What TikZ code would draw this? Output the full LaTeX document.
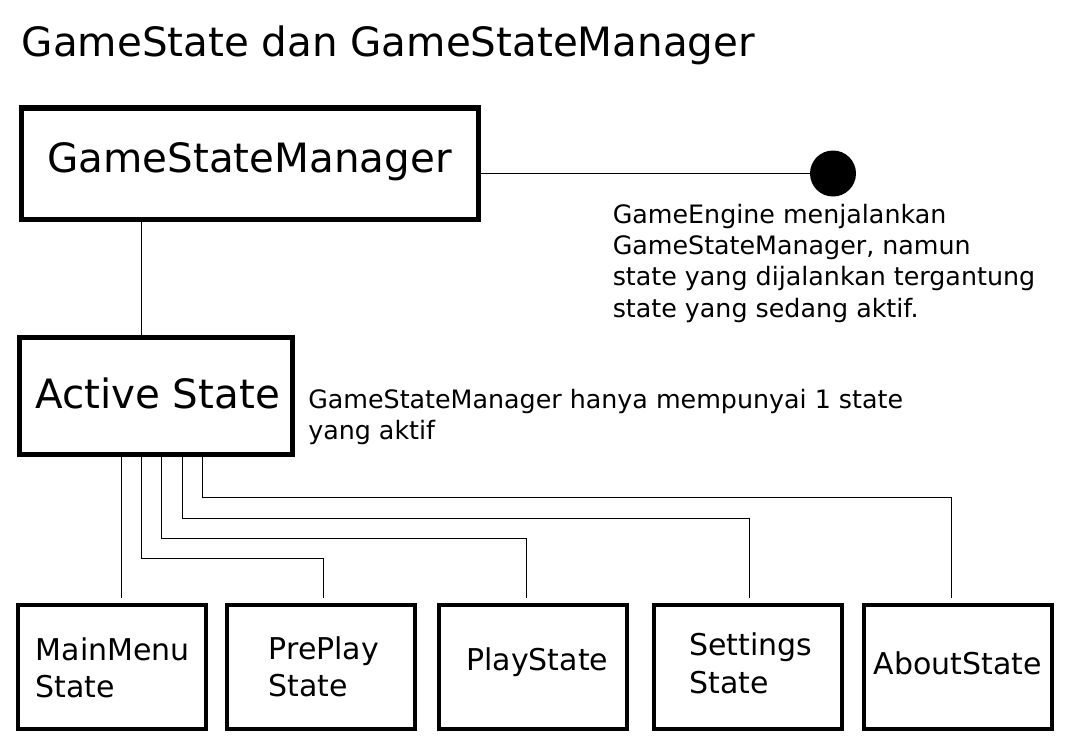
\documentclass[tikz,border=0pt]{standalone}
\usepackage{fontspec}
\setmainfont{DejaVu Sans}
\newcommand{\stk}[1]{\vtop{#1}}
\begin{document}
\begin{tikzpicture}[x=0.75pt,y=-0.75pt,
  box/.style={draw=black, fill=white, inner sep=0pt, outer sep=0pt, rectangle},
  bigbox/.style={box, line width=4.1pt, minimum width=342.4pt, minimum height=83.6pt},
  actbox/.style={box, line width=3.75pt, minimum width=204.4pt, minimum height=87.75pt},
  stbox/.style={box, line width=3pt, minimum width=141pt, minimum height=93pt},
  bigtxt/.style={inner sep=0pt, font=\fontsize{30.3pt}{36pt}\selectfont},
  notetxt/.style={inner sep=0pt, anchor=base west, font=\fontsize{19pt}{23.6pt}\selectfont},
  sttxt/.style={inner sep=0pt, anchor=base west, font=\fontsize{22.5pt}{27.75pt}\selectfont},
  conn/.style={draw=black, line width=0.75pt},
  ]
\useasboundingbox[fill=white] (0,0) rectangle (1065,753);

% title
\node[bigtxt, anchor=base west, font=\fontsize{30.3pt}{36pt}\selectfont] (title) at (21.5,56) {GameState dan GameStateManager};

% main boxes
\node[bigbox] (gsm) at (250,163.5) {};
\node[bigtxt, anchor=base] (gsmt) at (249.5,172) {GameStateManager};
\node[actbox] (act) at (156.25,396) {};
\node[bigtxt, anchor=base] (actt) at (157.5,408) {Active State};

% dot
\node[circle, fill=black, inner sep=0pt, minimum size=34.5pt] (dot) at (833,173.5) {};

% notes
\node[notetxt] (note1) at (612.5,223) {\stk{\hbox{GameEngine menjalankan}\hbox{GameStateManager, namun}\hbox{state yang dijalankan tergantung}\hbox{state yang sedang aktif.}}};
\node[notetxt] (note2) at (308,408) {\stk{\hbox{GameStateManager hanya mempunyai 1 state}\hbox{yang aktif}}};

% state boxes
\node[stbox] (mm) at (112,666.7) {};
\node[stbox] (pp) at (321,666.7) {};
\node[stbox] (ps) at (533.3,666.7) {};
\node[stbox] (ss) at (747.5,666.7) {};
\node[stbox] (as) at (958,666.7) {};
\node[sttxt] (mmt) at (35.5,660) {\stk{\hbox{MainMenu}\hbox{State}}};
\node[sttxt] (ppt) at (268.5,659.5) {\stk{\hbox{PrePlay}\hbox{State}}};
\node[sttxt] (pst) at (466,670.7) {PlayState};
\node[sttxt, font=\fontsize{22.5pt}{28.5pt}\selectfont] (sst) at (689,655) {\stk{\hbox{Settings}\hbox{State}}};
\node[sttxt] (ast) at (873.5,674) {AboutState};

% coordinates
\coordinate (s1) at (121.7,0);
\coordinate (s2) at (141.7,0);
\coordinate (s3) at (161.7,0);
\coordinate (s4) at (182.3,0);
\coordinate (s5) at (202.3,0);
\coordinate (b2) at (323.3,558.3);
\coordinate (b3) at (526.7,538.3);
\coordinate (b4) at (749,518);
\coordinate (b5) at (951,497.7);

% connectors
\draw[conn] (gsm.east |- dot) -- (dot);
\draw[conn] (gsm.south -| s2) -- (act.north -| s2);
\draw[conn, shorten >=4.8pt] (act.south -| s1) -- (mm.north -| s1);
\draw[conn, shorten >=4.8pt] (act.south -| s2) |- (b2) -- (b2 |- pp.north);
\draw[conn, shorten >=4.8pt] (act.south -| s3) |- (b3) -- (b3 |- ps.north);
\draw[conn, shorten >=4.8pt] (act.south -| s4) |- (b4) -- (b4 |- ss.north);
\draw[conn, shorten >=4.8pt] (act.south -| s5) |- (b5) -- (b5 |- as.north);
\end{tikzpicture}
\end{document}
